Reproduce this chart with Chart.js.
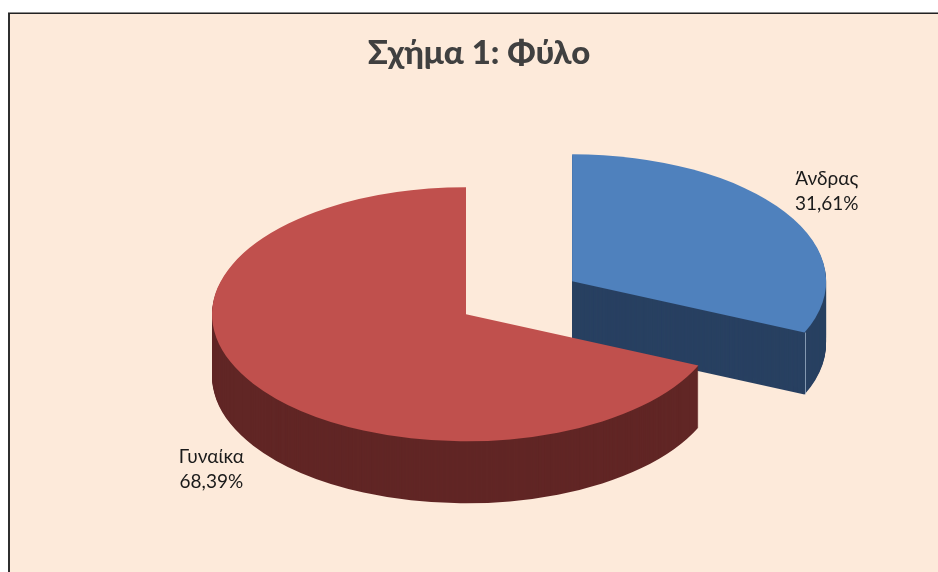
<!DOCTYPE html>
<html>
<head>
<meta charset="utf-8">
<script src="https://cdn.jsdelivr.net/npm/chart.js@4"></script>
<style>
  html, body { margin: 0; padding: 0; background: #fff; overflow: hidden; }
  #frame { position: absolute; left: 8px; top: 13px; width: 930px; height: 559px;
           box-sizing: border-box; background: #fdeada;
           border-left: 2px solid #2f2f2f; border-top: 1px solid #222;
           box-shadow: 0 -1px 0 #8c8c8c; }
  #pie { position: absolute; left: 0; top: 0; }
</style>
</head>
<body>
<div id="frame"></div>
<canvas id="pie" width="938" height="572"></canvas>
<script>
var titleText = "Σχήμα 1: Φύλο";
var categories = ["Άνδρας", "Γυναίκα"];
var percentages = [31.61, 68.39];
var topColors = ["#4f81bd", "#c0504d"];
var wallColors = ["#284061", "#612625"];
var explode = [125, 0];

// fake 3d: the arcs are squashed and stacked by hand, Chart.js has no 3d pie
var squash = 0.5;
var depth = 62;
var shiftX = -13;
var explodeTilt = 0.021;

function fmt(v) {
  return v.toFixed(2).replace(".", ",") + "%";
}

var pie3d = {
  id: "pie3d",
  beforeDatasetDraw: function(chart, args) {
    var ctx = chart.ctx;
    var arcs = args.meta.data;

    ctx.font = "19px Lato";

    arcs.forEach(function(arc, i) {
      var saved = arc.options;
      var mid = (arc.startAngle + arc.endAngle) / 2;
      var ex = Math.cos(mid + explodeTilt) * explode[i] + shiftX;
      var ey = Math.sin(mid + explodeTilt) * explode[i];

      function place(d) {
        ctx.translate(0, arc.y + d);
        ctx.scale(1, squash);
        ctx.translate(ex, ey - arc.y);
      }

      // walls, bottom layer first
      arc.options = Object.assign({}, saved, { backgroundColor: wallColors[i] });
      for (var d = depth; d > 0; d--) {
        ctx.save();
        place(d);
        arc.draw(ctx);
        ctx.restore();
      }
      arc.options = saved;

      ctx.save();
      place(0);
      arc.draw(ctx);
      ctx.restore();

      // light seam where the cut face meets the round wall
      if (Math.sin(arc.endAngle) > 0) {
        var px = arc.x + ex + Math.cos(arc.endAngle) * arc.outerRadius;
        var py = arc.y + (ey + Math.sin(arc.endAngle) * arc.outerRadius) * squash;
        ctx.save();
        ctx.strokeStyle = "rgba(170,190,210,0.7)";
        ctx.lineWidth = 1;
        ctx.beginPath();
        ctx.moveTo(Math.round(px) + 0.5, py);
        ctx.lineTo(Math.round(px) + 0.5, py + depth);
        ctx.stroke();
        ctx.restore();
      }
    });

    // data labels, they follow the exploded slice
    ctx.save();
    ctx.fillStyle = "#1a1a1a";
    ctx.textAlign = "center";
    ctx.textBaseline = "middle";
    arcs.forEach(function(arc, i) {
      var mid = (arc.startAngle + arc.endAngle) / 2;
      var ex = Math.cos(mid + explodeTilt) * explode[i] + shiftX;
      var ey = Math.sin(mid + explodeTilt) * explode[i];
      var lx = arc.x + ex + Math.cos(mid) * 304;
      var ly = arc.y + (ey + Math.sin(mid) * 335) * squash + (Math.sin(mid) > 0 ? depth : 0) + 2;
      ctx.fillText(categories[i], lx, ly - 12.5);
      ctx.fillText(fmt(percentages[i]), lx, ly + 12.5);
    });
    ctx.restore();

    return false;
  }
};

new Chart(document.getElementById("pie"), {
  type: "pie",
  data: {
    labels: categories,
    datasets: [{
      data: percentages,
      backgroundColor: topColors,
      borderWidth: 0
    }]
  },
  options: {
    responsive: false,
    animation: false,
    radius: 254,
    layout: { padding: { left: 20, right: 0, top: 0, bottom: 17 } },
    plugins: {
      legend: { display: false },
      tooltip: { enabled: false },
      title: {
        display: true,
        text: titleText,
        color: "#404040",
        font: { family: "Lato", size: 33, weight: "900" },
        padding: { top: 34, bottom: 0 }
      }
    }
  },
  plugins: [pie3d]
});
</script>
</body>
</html>
